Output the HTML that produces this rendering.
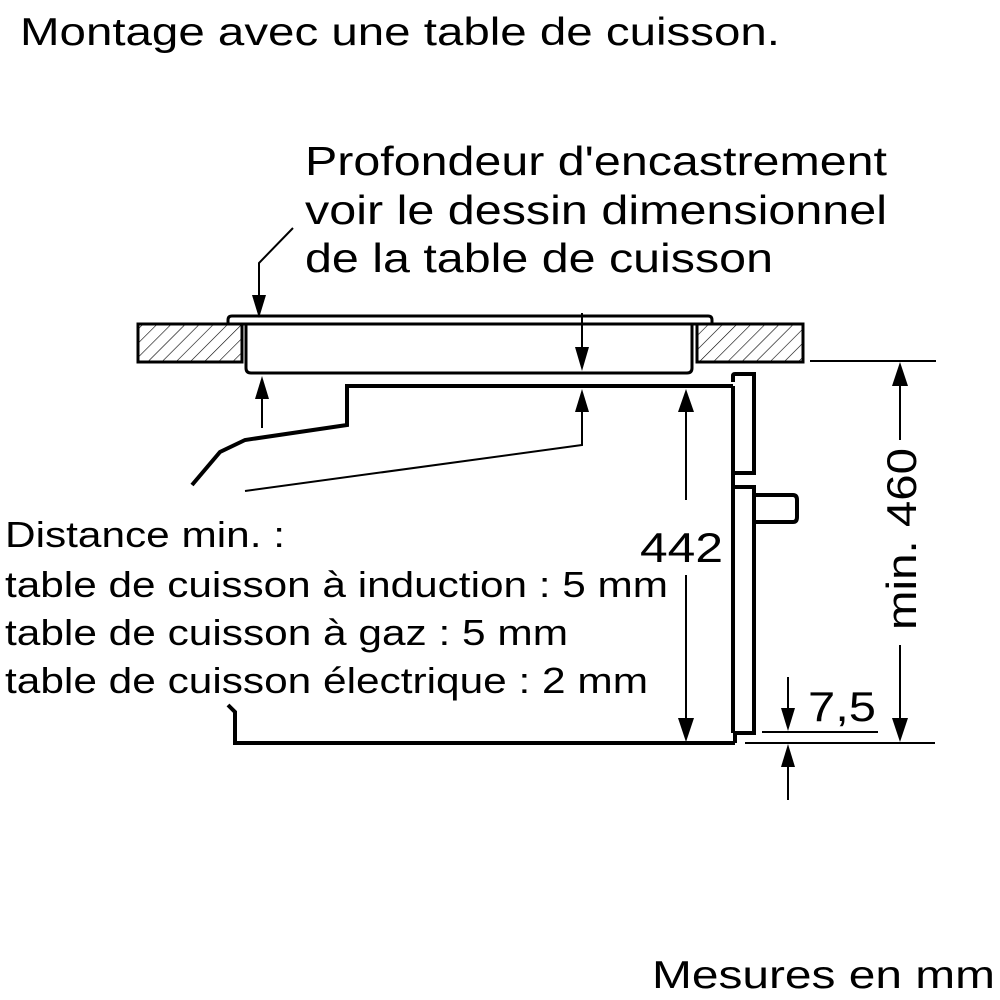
<!DOCTYPE html>
<html><head><meta charset="utf-8"><style>html,body{margin:0;padding:0;background:#fff}svg{display:block}</style></head>
<body>
<svg width="1000" height="1000" viewBox="0 0 1000 1000" xmlns="http://www.w3.org/2000/svg" font-family="Liberation Sans, Arial, sans-serif" fill="#000">
<defs>
<pattern id="h" width="10" height="10" patternUnits="userSpaceOnUse" patternTransform="rotate(45)">
<line x1="0" y1="0" x2="0" y2="10" stroke="#000" stroke-width="1.2"/>
</pattern>
</defs>
<text x="20" y="45" font-size="39" textLength="760" lengthAdjust="spacingAndGlyphs">Montage avec une table de cuisson.</text>
<text x="305" y="175" font-size="41" textLength="582" lengthAdjust="spacingAndGlyphs">Profondeur d'encastrement</text>
<text x="305" y="224" font-size="41" textLength="582" lengthAdjust="spacingAndGlyphs">voir le dessin dimensionnel</text>
<text x="305" y="272" font-size="41" textLength="468" lengthAdjust="spacingAndGlyphs">de la table de cuisson</text>
<text x="5" y="547" font-size="36" textLength="280" lengthAdjust="spacingAndGlyphs">Distance min. :</text>
<text x="5" y="597" font-size="36" textLength="663" lengthAdjust="spacingAndGlyphs">table de cuisson à induction : 5 mm</text>
<text x="5" y="645" font-size="36" textLength="563" lengthAdjust="spacingAndGlyphs">table de cuisson à gaz : 5 mm</text>
<text x="5" y="693" font-size="36" textLength="643" lengthAdjust="spacingAndGlyphs">table de cuisson électrique : 2 mm</text>
<text x="652" y="988" font-size="39" textLength="343" lengthAdjust="spacingAndGlyphs">Mesures en mm</text>
<text x="640" y="562" font-size="42" textLength="83" lengthAdjust="spacingAndGlyphs">442</text>
<text x="808" y="721" font-size="42" textLength="68" lengthAdjust="spacingAndGlyphs">7,5</text>
<text transform="translate(916,630) rotate(-90)" font-size="42" textLength="182" lengthAdjust="spacingAndGlyphs">min. 460</text>

<g fill="none" stroke="#000">
<rect x="138" y="324" width="104" height="38" fill="url(#h)" stroke-width="3"/>
<rect x="697" y="324" width="106" height="38" fill="url(#h)" stroke-width="3"/>
<path d="M228 324 V320 Q228 316 232 316 H708 Q712 316 712 320 V324" stroke-width="3"/>
<line x1="228" y1="324" x2="712" y2="324" stroke-width="3"/>
<path d="M246 324 V368 Q246 373 251 373 H687 Q692 373 692 368 V324" stroke-width="3"/>
<path d="M293 228 L259 263 V300" stroke-width="2"/>
<path d="M733 386 H347 V425 L245 440 L220 452 L192 485" stroke-width="4"/>
<path d="M245 491 L582 445 V405" stroke-width="2"/>
<line x1="582" y1="313" x2="582" y2="350" stroke-width="2"/>
<line x1="262" y1="428" x2="262" y2="395" stroke-width="2"/>
<path d="M733 382 V376 Q733 374 735 374 H754 V473 H733 V482" stroke-width="4"/>
<path d="M733 482 V487 H754 V733 H735 V743" stroke-width="4"/>
<path d="M733 386 V473" stroke-width="4"/>
<path d="M733 487 V733" stroke-width="4"/>
<path d="M754 495 H793 Q797 495 797 500 V517 Q797 522 793 522 H754" stroke-width="4"/>
<path d="M228 705 L235 712 V743 H735" stroke-width="4"/>
<line x1="810" y1="361" x2="936" y2="361" stroke-width="2"/>
<line x1="745" y1="743" x2="935" y2="743" stroke-width="2"/>
<line x1="762" y1="732" x2="878" y2="732" stroke-width="2"/>
<line x1="900" y1="380" x2="900" y2="440" stroke-width="2"/>
<line x1="900" y1="645" x2="900" y2="725" stroke-width="2"/>
<line x1="686" y1="405" x2="686" y2="500" stroke-width="2"/>
<line x1="686" y1="575" x2="686" y2="725" stroke-width="2"/>
<line x1="788" y1="677" x2="788" y2="715" stroke-width="2"/>
<line x1="788" y1="760" x2="788" y2="800" stroke-width="2"/>
</g>
<g>
<polygon points="252,295 266,295 259,318"/>
<polygon points="575,347 589,347 582,371"/>
<polygon points="575,412 589,412 582,389"/>
<polygon points="255,399 269,399 262,376"/>
<polygon points="678,412 694,412 686,389"/>
<polygon points="678,718 694,718 686,742"/>
<polygon points="892,386 908,386 900,362"/>
<polygon points="892,718 908,718 900,742"/>
<polygon points="781,708 795,708 788,731"/>
<polygon points="781,767 795,767 788,744"/>
</g>
</svg>
</body></html>
